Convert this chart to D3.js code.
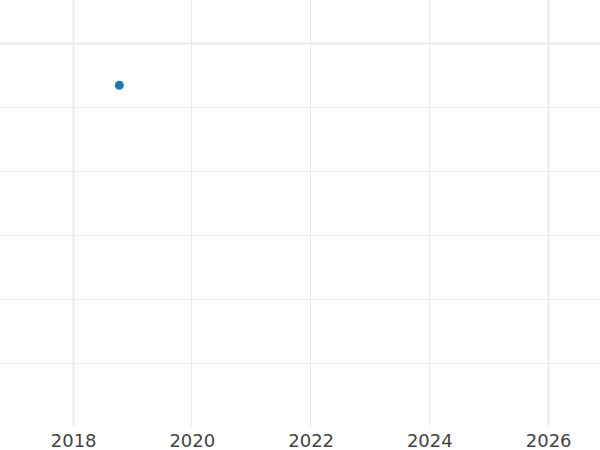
<!DOCTYPE html>
<html>
<head>
<meta charset="utf-8">
<script src="https://cdn.jsdelivr.net/npm/d3@7"></script>
<style>
  html, body { margin: 0; padding: 0; background: #ffffff; }
  svg { display: block; }
</style>
</head>
<body>
<svg id="chart" width="600" height="450"></svg>
<script>
// ---- data ----
const pointDates = ["2018-10-12"];
const pointValues = [5.34];
const xTickYears = [2018, 2020, 2022, 2024, 2026];
const yTickValues = [1, 2, 3, 4, 5, 6];

const width = 600, height = 450;
const plotTop = 0, plotBottom = 427;

const svg = d3.select("#chart");
const parse = d3.timeParse("%Y-%m-%d");

const x = d3.scaleTime()
  .domain([new Date(2016, 9, 8), new Date(2026, 10, 16)])
  .range([0, width]);
const y = d3.scaleLinear()
  .domain([0, 6.672])
  .range([plotBottom, plotTop]);

const xTicks = xTickYears.map(yr => new Date(yr, 0, 1));

// horizontal grid
svg.append("g").selectAll("line").data(yTickValues).join("line")
  .attr("x1", 0).attr("x2", width)
  .attr("y1", d => Math.round(y(d)) + 0.5)
  .attr("y2", d => Math.round(y(d)) + 0.5)
  .attr("stroke", "#ebebeb")
  .attr("stroke-width", (d, i) => i === yTickValues.length - 1 ? 2 : 1);

// vertical grid
svg.append("g").selectAll("line").data(xTicks).join("line")
  .attr("x1", d => Math.floor(x(d)) + 0.5)
  .attr("x2", d => Math.floor(x(d)) + 0.5)
  .attr("y1", plotTop).attr("y2", plotBottom)
  .attr("stroke", "#ebebeb")
  .attr("stroke-width", (d, i) => (i === 0 || i === xTicks.length - 1) ? 2 : 1);

// x axis labels
const xAxis = d3.axisBottom(x)
  .tickValues(xTicks)
  .tickFormat(d3.timeFormat("%Y"))
  .tickSize(0)
  .tickPadding(7);
const gx = svg.append("g")
  .attr("transform", `translate(0,${plotBottom})`)
  .call(xAxis);
gx.select(".domain").remove();
gx.selectAll("text")
  .attr("fill", "#444444")
  .style("font-family", "'DejaVu Sans', sans-serif")
  .style("font-size", "18px");

// points
svg.append("g").selectAll("circle").data(pointDates).join("circle")
  .attr("cx", (d) => x(parse(d)))
  .attr("cy", (d, i) => y(pointValues[i]))
  .attr("r", 4.5)
  .attr("fill", "#1f77b4");
</script>
</body>
</html>
